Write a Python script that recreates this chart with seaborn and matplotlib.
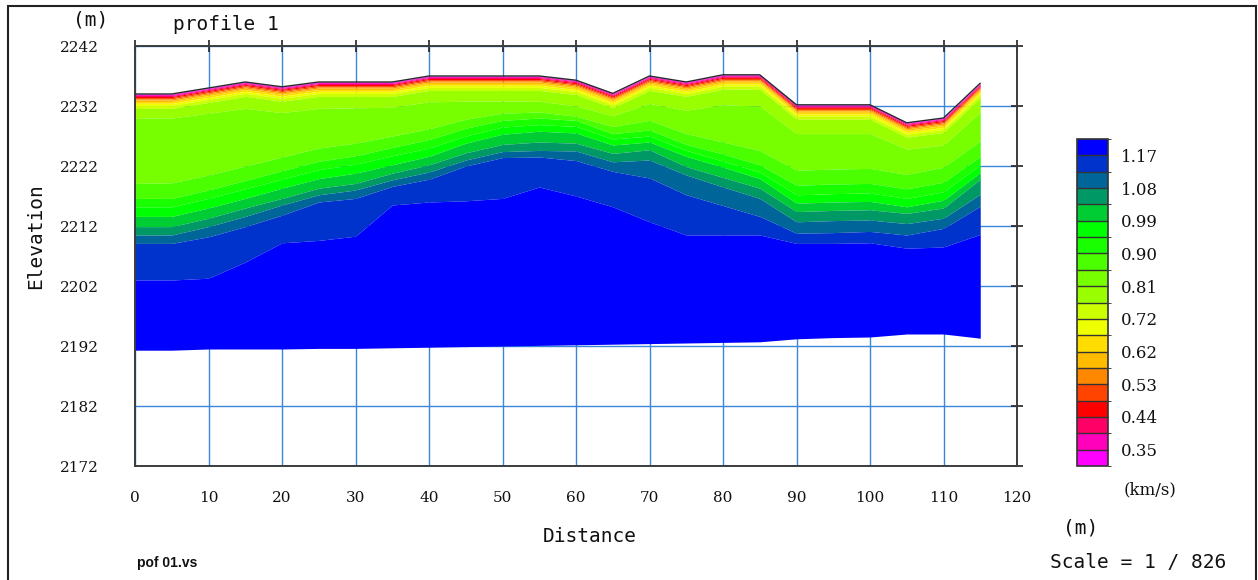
import numpy as np
import matplotlib
matplotlib.use("Agg")
import matplotlib.pyplot as plt
from matplotlib.colors import ListedColormap, BoundaryNorm
from matplotlib.cm import ScalarMappable
from matplotlib.patches import Rectangle
import seaborn as sns

# ---- profile geometry (m) -------------------------------------------------
distance = [0, 5, 10, 15, 20, 25, 30, 35, 40, 45, 50, 55,
            60, 65, 70, 75, 80, 85, 90, 95, 100, 105, 110, 115]

surface = [2234.0, 2234.0, 2235.0, 2236.0, 2235.2, 2236.0, 2236.0, 2236.0,
           2237.0, 2237.0, 2237.0, 2237.0, 2236.3, 2234.1, 2237.0, 2236.0,
           2237.2, 2237.2, 2232.2, 2232.2, 2232.2, 2229.2, 2230.0, 2235.8]

bottom = [2191.3, 2191.3, 2191.5, 2191.5, 2191.5, 2191.6, 2191.6, 2191.7,
          2191.8, 2191.9, 2192.0, 2192.1, 2192.2, 2192.3, 2192.4, 2192.5,
          2192.6, 2192.7, 2193.2, 2193.4, 2193.5, 2194.0, 2194.0, 2193.3]

# depth below the ground surface of the shallow iso-velocity lines
# (0.35 ... 0.76 km/s)
shallow_depths = [0.1, 0.25, 0.42, 0.6, 0.8, 1.0, 1.25, 1.55, 1.9, 2.4]

# elevation of the deeper iso-velocity lines along the profile
iso_0806 = [2230.0, 2230.0, 2230.8, 2231.6, 2230.9, 2231.6, 2231.7, 2231.8,
            2232.7, 2232.8, 2232.8, 2232.8, 2232.0, 2230.4, 2232.4, 2231.3,
            2232.2, 2232.0, 2227.4, 2227.4, 2227.4, 2224.8, 2225.5, 2231.0]
iso_0852 = [2219.1, 2219.2, 2220.5, 2222.0, 2223.5, 2225.0, 2225.8, 2227.0,
            2228.2, 2229.8, 2230.8, 2231.0, 2230.3, 2228.6, 2229.6, 2227.4,
            2226.0, 2224.6, 2221.3, 2221.5, 2221.6, 2220.6, 2221.8, 2226.2]
iso_0897 = [2216.6, 2216.6, 2218.0, 2219.6, 2221.2, 2222.8, 2223.7, 2225.1,
            2226.4, 2228.3, 2229.6, 2230.0, 2229.6, 2227.4, 2228.0, 2225.6,
            2224.0, 2222.2, 2218.8, 2219.0, 2219.1, 2218.2, 2219.3, 2223.6]
iso_0943 = [2215.2, 2215.2, 2216.6, 2218.2, 2219.8, 2221.4, 2222.3, 2223.7,
            2225.0, 2227.0, 2228.5, 2228.9, 2228.6, 2226.5, 2227.0, 2224.6,
            2222.8, 2221.0, 2217.2, 2217.4, 2217.5, 2216.6, 2217.7, 2222.2]
iso_0988 = [2213.6, 2213.6, 2215.0, 2216.6, 2218.3, 2219.9, 2220.8, 2222.2,
            2223.6, 2225.8, 2227.3, 2227.8, 2227.5, 2225.5, 2226.0, 2223.6,
            2221.8, 2219.9, 2215.8, 2216.0, 2216.1, 2215.2, 2216.3, 2220.9]
iso_1034 = [2211.9, 2211.9, 2213.3, 2215.0, 2216.6, 2218.3, 2219.1, 2220.8,
            2222.2, 2224.2, 2225.6, 2226.0, 2225.8, 2224.1, 2224.7, 2221.9,
            2220.1, 2218.3, 2214.4, 2214.6, 2214.7, 2214.1, 2215.0, 2219.8]
iso_1080 = [2210.5, 2210.5, 2211.9, 2213.6, 2215.5, 2217.2, 2218.0, 2219.7,
            2221.0, 2223.0, 2224.4, 2224.6, 2224.5, 2222.7, 2223.0, 2220.5,
            2218.5, 2216.6, 2212.7, 2212.9, 2213.0, 2212.4, 2213.3, 2217.3]
iso_1125 = [2209.1, 2209.1, 2210.2, 2211.9, 2213.8, 2216.0, 2216.6, 2218.6,
            2219.8, 2222.0, 2223.4, 2223.5, 2222.9, 2221.1, 2220.0, 2217.2,
            2215.4, 2213.6, 2210.8, 2210.9, 2211.1, 2210.5, 2211.6, 2215.3]
iso_1170 = [2203.0, 2203.0, 2203.3, 2206.0, 2209.2, 2209.6, 2210.3, 2215.5,
            2216.0, 2216.2, 2216.6, 2218.5, 2217.0, 2215.2, 2212.7, 2210.5,
            2210.5, 2210.5, 2209.1, 2209.1, 2209.2, 2208.3, 2208.5, 2210.6]

# ---- velocity scale (km/s) ----------------------------------------------
levels = [0.35, 0.396, 0.441, 0.487, 0.532, 0.578, 0.624, 0.669, 0.715,
          0.760, 0.806, 0.852, 0.897, 0.943, 0.988, 1.034, 1.080, 1.125, 1.170]
level_labels = ["0.35", "0.44", "0.53", "0.62", "0.72",
                "0.81", "0.90", "0.99", "1.08", "1.17"]
band_colors = ["#ff00ff", "#ff00bb", "#ff0066", "#ff0000", "#ff4400",
               "#ff8800", "#ffbb00", "#ffdd00", "#eeff00", "#ccff00",
               "#99ff00", "#77ff00", "#4cff00", "#1aff00", "#00ff00",
               "#00cc33", "#009966", "#006699", "#0033cc", "#0000ff"]

x_ticks = list(range(0, 121, 10))
y_ticks = [2172, 2182, 2192, 2202, 2212, 2222, 2232, 2242]

# ---- figure --------------------------------------------------------------
sns.set_style("white")
plt.rcParams["font.family"] = ["DejaVu Sans"]

W, H = 1258, 580
fig = plt.figure(figsize=(W / 100, H / 100), dpi=100)


def fx(px):
    return px / W


def fy(py):
    return 1 - py / H


ax = fig.add_axes([fx(135), fy(466), fx(1017) - fx(135), fy(46) - fy(466)])

# stack the iso-velocity lines from the surface downwards
surf = np.asarray(surface)
lines = [surf] + [surf - d for d in shallow_depths] + [
    np.asarray(v) for v in (iso_0806, iso_0852, iso_0897, iso_0943, iso_0988,
                            iso_1034, iso_1080, iso_1125, iso_1170)
] + [np.asarray(bottom)]

for upper, lower, color in zip(lines[:-1], lines[1:], band_colors):
    ax.fill_between(distance, lower, upper, color=color, lw=0, zorder=2,
                    antialiased=False)

sns.lineplot(x=distance, y=surface, ax=ax, color="#2a2a2a", lw=1.0, zorder=3)

ax.set_xlim(0, 120)
ax.set_ylim(2172, 2242)
ax.set_xticks(x_ticks)
ax.set_yticks(y_ticks)
ax.set_axisbelow(True)
ax.grid(True, color="#3a87d9", lw=1.0)
for s in ax.spines.values():
    s.set_visible(True)
    s.set_color("#3c3c3c")
    s.set_linewidth(1.4)
ax.tick_params(direction="inout", length=8, width=1.2, color="#222222",
               top=True, right=True, labeltop=False, labelright=False)
ax.tick_params(axis="y", pad=22)
ax.tick_params(axis="x", pad=14)
for lab in ax.get_xticklabels() + ax.get_yticklabels():
    lab.set_family("DejaVu Serif")
    lab.set_fontsize(11)
    lab.set_color("#111111")
ax.set_xlabel("")
ax.set_ylabel("")

# ---- colour bar ----------------------------------------------------------
cax = fig.add_axes([fx(1077), fy(466), fx(1108) - fx(1077), fy(139) - fy(466)])
bounds = [0.305] + levels + [1.215]
cmap = ListedColormap(band_colors)
norm = BoundaryNorm(bounds, cmap.N)
cb = fig.colorbar(ScalarMappable(norm=norm, cmap=cmap), cax=cax,
                  drawedges=True, spacing="uniform", ticks=levels[0::2])
cb.ax.set_yticklabels(level_labels)
cb.ax.tick_params(length=0, pad=9)
for lab in cb.ax.get_yticklabels():
    lab.set_family("DejaVu Serif")
    lab.set_fontsize(12)
    lab.set_color("#111111")
cb.outline.set_edgecolor("#333333")
cb.outline.set_linewidth(1.2)
cb.dividers.set_color("#333333")
cb.dividers.set_linewidth(1.0)

# ---- annotations ---------------------------------------------------------
mono = dict(family="DejaVu Sans Mono", fontsize=14, color="#111111")
fig.text(fx(91), fy(20), "(m)", ha="center", va="center", **mono)
fig.text(fx(173), fy(24), "profile 1", ha="left", va="center", **mono)
fig.text(fx(36), fy(236), "Elevation", ha="center", va="center",
         rotation=90, **mono)
fig.text(fx(590), fy(536), "Distance", ha="center", va="center", **mono)
fig.text(fx(1081), fy(528), "(m)", ha="center", va="center", **mono)
fig.text(fx(1138), fy(563), "Scale = 1 / 826", ha="center", va="center",
         **mono)
fig.text(fx(1150), fy(490), "(km/s)", ha="center", va="center",
         family="DejaVu Serif", fontsize=12, color="#111111")
fig.text(fx(137), fy(563), "pof 01.vs", ha="left", va="center",
         family="Liberation Sans", fontweight="bold", fontsize=10,
         color="#111111")

# outer frame
fig.patches.append(Rectangle((fx(8), fy(590)), fx(1256) - fx(8),
                             fy(6) - fy(590), transform=fig.transFigure,
                             fill=False, ec="#222222", lw=1.5))

fig.savefig("out.png", dpi=100)
